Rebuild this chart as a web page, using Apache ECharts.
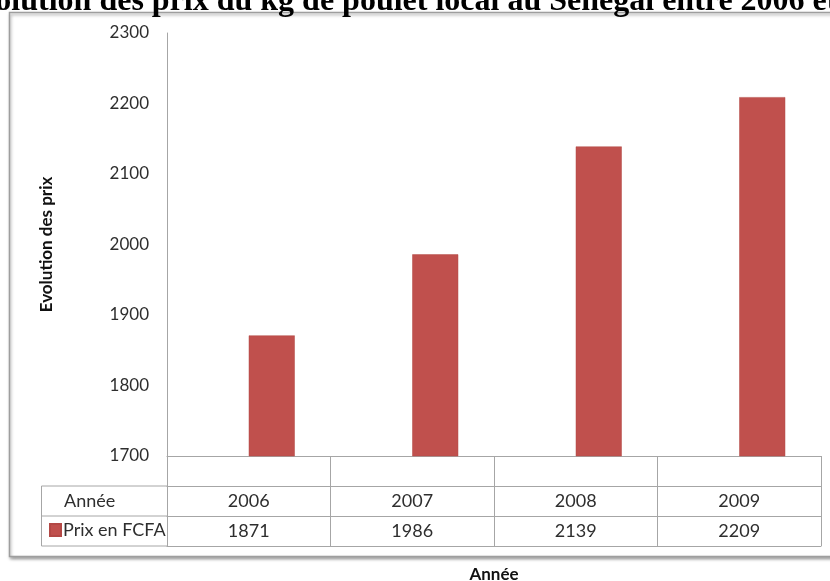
<!DOCTYPE html>
<html>
<head>
<meta charset="utf-8">
<script src="https://cdn.jsdelivr.net/npm/echarts@6/dist/echarts.min.js"></script>
<style>
  html, body { margin: 0; padding: 0; background: #fff; }
  #chart { width: 830px; height: 581px; }
</style>
</head>
<body>
<div id="chart"></div>
<script>
// data
var years = ['2006', '2007', '2008', '2009']
var prix = [1871, 1986, 2139, 2209]
var yTicks = { min: 1700, max: 2300, step: 100 }

var lineColor = '#a6a6a6'
var textColor = '#2e2e2e'
var font = 'Lato'
var tableStyle = { fontFamily: font, fontSize: 18, color: textColor }

var chart = echarts.init(document.getElementById('chart'))

chart.setOption({
  backgroundColor: '#fff',
  animation: false,
  grid: { left: 167, right: 9, top: 33, bottom: 125, containLabel: false, outerBoundsMode: 'none' },
  legend: {
    data: ['Prix en FCFA'],
    left: 49, top: 521,
    padding: 0,
    itemWidth: 11, itemHeight: 12, itemGap: 4,
    icon: 'rect',
    textStyle: Object.assign({ padding: [0, 0, 0, -3] }, tableStyle)
  },
  xAxis: [{
    type: 'category',
    data: years,
    axisLine: { lineStyle: { color: lineColor, width: 1 } },
    axisTick: { show: true, length: 90, interval: 0, lineStyle: { color: lineColor } },
    axisLabel: { show: false }
  }, {
    type: 'category',
    data: years,
    position: 'bottom',
    offset: 30,
    axisLine: { lineStyle: { color: lineColor } },
    axisTick: { show: false },
    axisLabel: Object.assign({ margin: 6 }, tableStyle)
  }, {
    type: 'category',
    data: prix.map(String),
    position: 'bottom',
    offset: 60,
    axisLine: { lineStyle: { color: lineColor } },
    axisTick: { show: false },
    axisLabel: Object.assign({ margin: 6 }, tableStyle)
  }, {
    type: 'category',
    data: years,
    position: 'bottom',
    offset: 90,
    axisLine: { lineStyle: { color: lineColor } },
    axisTick: { show: false },
    axisLabel: { show: false },
    name: 'Année',
    nameLocation: 'middle',
    nameGap: 20,
    nameTextStyle: { fontFamily: font, fontSize: 17, fontWeight: 'bold', color: '#111' }
  }],
  yAxis: {
    type: 'value',
    min: yTicks.min, max: yTicks.max, interval: yTicks.step,
    name: 'Evolution des prix',
    nameLocation: 'middle',
    nameRotate: 90,
    nameGap: 112,
    nameTextStyle: { fontFamily: font, fontSize: 17, fontWeight: 'bold', color: '#111' },
    axisLine: { show: true, lineStyle: { color: lineColor } },
    axisTick: { show: false },
    splitLine: { show: false },
    axisLabel: { fontFamily: font, fontSize: 17, color: textColor, margin: 18, formatter: function (v) { return String(v) } }
  },
  series: [{
    // empty slot so the real bar starts at the middle of its column
    name: 'vide',
    type: 'bar',
    barWidth: 46,
    barGap: '0%',
    data: ['-', '-', '-', '-']
  }, {
    name: 'Prix en FCFA',
    type: 'bar',
    barWidth: 46,
    barGap: '0%',
    itemStyle: { color: '#c0504d', borderColor: '#b34845', borderWidth: 0.5 },
    data: prix
  }],
  graphic: [{
    type: 'rect',
    z: -10,
    shape: { x: 9.5, y: 12.5, width: 830, height: 544 },
    style: { fill: '#fff', stroke: '#9e9e9e', lineWidth: 1.5,
      shadowBlur: 3, shadowOffsetX: 1, shadowOffsetY: 2, shadowColor: 'rgba(0,0,0,0.35)' }
  }, {
    type: 'text',
    z: 10,
    style: {
      text: 'Evolution des prix du kg de poulet local au Sénégal entre 2006 et 2009',
      x: -42, y: 18,
      fontFamily: 'Liberation Serif', fontWeight: 'bold', fontSize: 32,
      fill: '#000', textVerticalAlign: 'bottom'
    }
  }, {
    // left part of the data table
    type: 'polyline',
    shape: { points: [[167, 486], [41.5, 486], [41.5, 546], [167, 546]] },
    style: { stroke: lineColor, fill: null, lineWidth: 1 }
  }, {
    type: 'line',
    shape: { x1: 41.5, y1: 516, x2: 167, y2: 516 },
    style: { stroke: lineColor, lineWidth: 1 }
  }, {
    type: 'text',
    style: { text: 'Année', x: 64, y: 501, fontFamily: font, fontSize: 18, fill: textColor, textVerticalAlign: 'middle' }
  }]
})
</script>
</body>
</html>
